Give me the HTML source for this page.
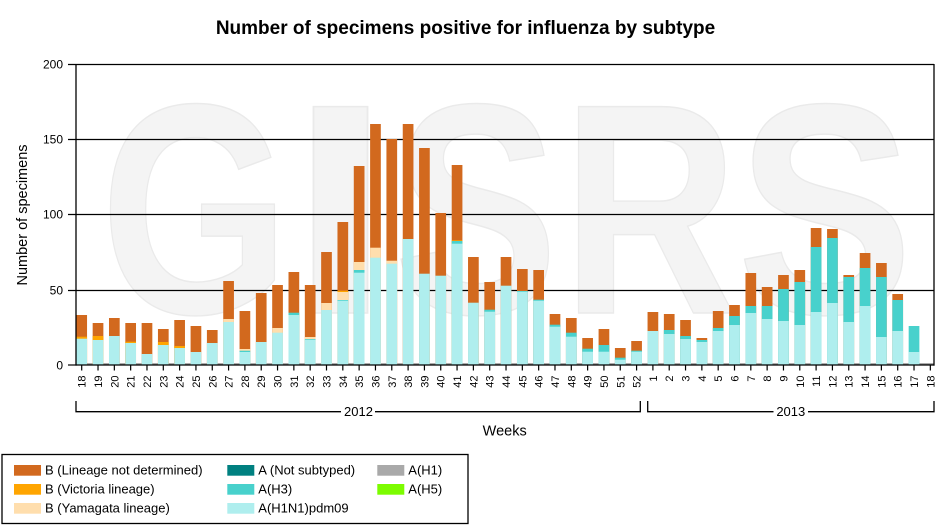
<!DOCTYPE html>
<html>
<head>
<meta charset="utf-8">
<style>
html,body{margin:0;padding:0;background:#fff;}
svg{display:block;font-family:"Liberation Sans",Arial,sans-serif;}
</style>
</head>
<body>
<svg width="935" height="529" viewBox="0 0 935 529" xmlns="http://www.w3.org/2000/svg">
<rect x="0" y="0" width="935" height="529" fill="#fff"/>

<!-- Watermark -->
<g font-family="Liberation Sans, Arial, sans-serif" font-weight="bold" font-size="300" fill="#f4f4f4" stroke="#eaeaea" stroke-width="1.5" text-anchor="middle">
<text transform="translate(195,313) scale(0.81,1)">G</text>
<text transform="translate(340.5,313) scale(1.25,1)">I</text>
<text transform="translate(476,313) scale(0.82,1)">S</text>
<text transform="translate(650,313) scale(0.81,1)">R</text>
<text transform="translate(825,313) scale(0.88,1)">S</text>
</g>

<!-- Title -->
<text x="465.5" y="34" font-size="19" font-weight="bold" text-anchor="middle" fill="#000">Number of specimens positive for influenza by subtype</text>

<!-- Gridlines -->
<g stroke="#000" stroke-width="1.2">
<line x1="68" y1="64.5" x2="934" y2="64.5"/>
<line x1="68" y1="139.5" x2="934" y2="139.5"/>
<line x1="68" y1="214.5" x2="934" y2="214.5"/>
<line x1="68" y1="290.5" x2="934" y2="290.5"/>
<line x1="68" y1="365" x2="76" y2="365"/>
</g>

<!-- gray base line -->
<rect x="76" y="363.3" width="858" height="1.7" fill="#888"/>

<!-- Bars: B (Lineage not determined) -->
<g fill="#D2691E">
<rect x="76.35" y="315" width="10.7" height="50"/>
<rect x="92.67" y="323" width="10.7" height="42"/>
<rect x="108.99" y="318" width="10.7" height="47"/>
<rect x="125.31" y="323" width="10.7" height="42"/>
<rect x="141.63" y="323" width="10.7" height="42"/>
<rect x="157.95" y="329" width="10.7" height="36"/>
<rect x="174.27" y="320" width="10.7" height="45"/>
<rect x="190.59" y="326" width="10.7" height="39"/>
<rect x="206.91" y="330" width="10.7" height="35"/>
<rect x="223.23" y="281" width="10.7" height="84"/>
<rect x="239.55" y="311" width="10.7" height="54"/>
<rect x="255.87" y="293" width="10.7" height="72"/>
<rect x="272.19" y="285" width="10.7" height="80"/>
<rect x="288.51" y="272" width="10.7" height="93"/>
<rect x="304.83" y="285" width="10.7" height="80"/>
<rect x="321.15" y="252" width="10.7" height="113"/>
<rect x="337.47" y="222" width="10.7" height="143"/>
<rect x="353.79" y="166" width="10.7" height="199"/>
<rect x="370.11" y="124" width="10.7" height="241"/>
<rect x="386.43" y="139" width="10.7" height="226"/>
<rect x="402.75" y="124" width="10.7" height="241"/>
<rect x="419.07" y="148" width="10.7" height="217"/>
<rect x="435.39" y="213" width="10.7" height="152"/>
<rect x="451.71" y="165" width="10.7" height="200"/>
<rect x="468.03" y="257" width="10.7" height="108"/>
<rect x="484.35" y="282" width="10.7" height="83"/>
<rect x="500.67" y="257" width="10.7" height="108"/>
<rect x="516.99" y="269" width="10.7" height="96"/>
<rect x="533.31" y="270" width="10.7" height="95"/>
<rect x="549.63" y="314" width="10.7" height="51"/>
<rect x="565.95" y="318" width="10.7" height="47"/>
<rect x="582.27" y="338" width="10.7" height="27"/>
<rect x="598.59" y="329" width="10.7" height="36"/>
<rect x="614.91" y="348" width="10.7" height="17"/>
<rect x="631.23" y="341" width="10.7" height="24"/>
<rect x="647.55" y="312" width="10.7" height="53"/>
<rect x="663.87" y="314" width="10.7" height="51"/>
<rect x="680.19" y="320" width="10.7" height="45"/>
<rect x="696.51" y="338" width="10.7" height="27"/>
<rect x="712.83" y="311" width="10.7" height="54"/>
<rect x="729.15" y="305" width="10.7" height="60"/>
<rect x="745.47" y="273" width="10.7" height="92"/>
<rect x="761.79" y="287" width="10.7" height="78"/>
<rect x="778.11" y="275" width="10.7" height="90"/>
<rect x="794.43" y="270" width="10.7" height="95"/>
<rect x="810.75" y="228" width="10.7" height="137"/>
<rect x="827.07" y="229" width="10.7" height="136"/>
<rect x="843.39" y="275" width="10.7" height="90"/>
<rect x="859.71" y="253" width="10.7" height="112"/>
<rect x="876.03" y="263" width="10.7" height="102"/>
<rect x="892.35" y="294" width="10.7" height="71"/>
</g>

<!-- B (Victoria lineage) -->
<g fill="#FFA500">
<rect x="76.35" y="336.7" width="10.7" height="28.3"/>
<rect x="92.67" y="336" width="10.7" height="29"/>
<rect x="125.31" y="341.7" width="10.7" height="23.3"/>
<rect x="157.95" y="342" width="10.7" height="23"/>
<rect x="174.27" y="346" width="10.7" height="19"/>
<rect x="337.47" y="290.7" width="10.7" height="74.3"/>
<rect x="451.71" y="240.3" width="10.7" height="124.7"/>
</g>

<!-- B (Yamagata lineage) -->
<g fill="#FFDEAD">
<rect x="223.23" y="319" width="10.7" height="46"/>
<rect x="239.55" y="349" width="10.7" height="16"/>
<rect x="272.19" y="328" width="10.7" height="37"/>
<rect x="304.83" y="337" width="10.7" height="28"/>
<rect x="321.15" y="303" width="10.7" height="62"/>
<rect x="337.47" y="292" width="10.7" height="73"/>
<rect x="353.79" y="262" width="10.7" height="103"/>
<rect x="370.11" y="247.7" width="10.7" height="117.3"/>
<rect x="386.43" y="260.7" width="10.7" height="104.3"/>
</g>

<!-- A(H3) -->
<g fill="#48D1CC">
<rect x="239.55" y="350.7" width="10.7" height="14.3"/>
<rect x="288.51" y="312.7" width="10.7" height="52.3"/>
<rect x="304.83" y="339" width="10.7" height="26"/>
<rect x="337.47" y="300" width="10.7" height="65"/>
<rect x="353.79" y="270" width="10.7" height="95"/>
<rect x="451.71" y="241" width="10.7" height="124"/>
<rect x="484.35" y="309.7" width="10.7" height="55.3"/>
<rect x="516.99" y="291" width="10.7" height="74"/>
<rect x="533.31" y="299.7" width="10.7" height="65.3"/>
<rect x="549.63" y="324.7" width="10.7" height="40.3"/>
<rect x="565.95" y="332.7" width="10.7" height="32.3"/>
<rect x="582.27" y="348.7" width="10.7" height="16.3"/>
<rect x="598.59" y="345" width="10.7" height="20"/>
<rect x="614.91" y="357.7" width="10.7" height="7.3"/>
<rect x="631.23" y="350.7" width="10.7" height="14.3"/>
<rect x="663.87" y="330" width="10.7" height="35"/>
<rect x="680.19" y="336" width="10.7" height="29"/>
<rect x="696.51" y="340" width="10.7" height="25"/>
<rect x="712.83" y="328" width="10.7" height="37"/>
<rect x="729.15" y="316" width="10.7" height="49"/>
<rect x="745.47" y="306" width="10.7" height="59"/>
<rect x="761.79" y="306" width="10.7" height="59"/>
<rect x="778.11" y="289" width="10.7" height="76"/>
<rect x="794.43" y="282" width="10.7" height="83"/>
<rect x="810.75" y="247" width="10.7" height="118"/>
<rect x="827.07" y="238" width="10.7" height="127"/>
<rect x="843.39" y="277" width="10.7" height="88"/>
<rect x="859.71" y="268" width="10.7" height="97"/>
<rect x="876.03" y="277" width="10.7" height="88"/>
<rect x="892.35" y="300" width="10.7" height="65"/>
<rect x="908.67" y="326" width="10.7" height="39"/>
</g>

<!-- A(H1N1)pdm09 -->
<g fill="#AFEEEE">
<rect x="76.35" y="338.7" width="10.7" height="26.3"/>
<rect x="92.67" y="340" width="10.7" height="25"/>
<rect x="108.99" y="336" width="10.7" height="29"/>
<rect x="125.31" y="343" width="10.7" height="22"/>
<rect x="141.63" y="354" width="10.7" height="11"/>
<rect x="157.95" y="345" width="10.7" height="20"/>
<rect x="174.27" y="348" width="10.7" height="17"/>
<rect x="190.59" y="352" width="10.7" height="13"/>
<rect x="206.91" y="343" width="10.7" height="22"/>
<rect x="223.23" y="322" width="10.7" height="43"/>
<rect x="239.55" y="352" width="10.7" height="13"/>
<rect x="255.87" y="342" width="10.7" height="23"/>
<rect x="272.19" y="332.7" width="10.7" height="32.3"/>
<rect x="288.51" y="315" width="10.7" height="50"/>
<rect x="304.83" y="339.7" width="10.7" height="25.3"/>
<rect x="321.15" y="310" width="10.7" height="55"/>
<rect x="337.47" y="300.7" width="10.7" height="64.3"/>
<rect x="353.79" y="272.7" width="10.7" height="92.3"/>
<rect x="370.11" y="257.7" width="10.7" height="107.3"/>
<rect x="386.43" y="263.7" width="10.7" height="101.3"/>
<rect x="402.75" y="239" width="10.7" height="126"/>
<rect x="419.07" y="273.7" width="10.7" height="91.3"/>
<rect x="435.39" y="275.7" width="10.7" height="89.3"/>
<rect x="451.71" y="243.7" width="10.7" height="121.3"/>
<rect x="468.03" y="302.7" width="10.7" height="62.3"/>
<rect x="484.35" y="311.7" width="10.7" height="53.3"/>
<rect x="500.67" y="285.7" width="10.7" height="79.3"/>
<rect x="516.99" y="291.7" width="10.7" height="73.3"/>
<rect x="533.31" y="300.7" width="10.7" height="64.3"/>
<rect x="549.63" y="326.7" width="10.7" height="38.3"/>
<rect x="565.95" y="336.7" width="10.7" height="28.3"/>
<rect x="582.27" y="351.7" width="10.7" height="13.3"/>
<rect x="598.59" y="351.7" width="10.7" height="13.3"/>
<rect x="614.91" y="359.7" width="10.7" height="5.3"/>
<rect x="631.23" y="351.7" width="10.7" height="13.3"/>
<rect x="647.55" y="331" width="10.7" height="34"/>
<rect x="663.87" y="334" width="10.7" height="31"/>
<rect x="680.19" y="339" width="10.7" height="26"/>
<rect x="696.51" y="342" width="10.7" height="23"/>
<rect x="712.83" y="331" width="10.7" height="34"/>
<rect x="729.15" y="325" width="10.7" height="40"/>
<rect x="745.47" y="313" width="10.7" height="52"/>
<rect x="761.79" y="319" width="10.7" height="46"/>
<rect x="778.11" y="321" width="10.7" height="44"/>
<rect x="794.43" y="325" width="10.7" height="40"/>
<rect x="810.75" y="312" width="10.7" height="53"/>
<rect x="827.07" y="303" width="10.7" height="62"/>
<rect x="843.39" y="322" width="10.7" height="43"/>
<rect x="859.71" y="306" width="10.7" height="59"/>
<rect x="876.03" y="337" width="10.7" height="28"/>
<rect x="892.35" y="331" width="10.7" height="34"/>
<rect x="908.67" y="352" width="10.7" height="13"/>
</g>

<!-- Axes -->
<g stroke="#000" stroke-width="1.3" fill="none">
<line x1="76" y1="64" x2="76" y2="365.6"/>
<line x1="76" y1="365" x2="934.5" y2="365"/>
<line x1="934" y1="64" x2="934" y2="365.6"/>
</g>

<!-- X ticks -->
<g stroke="#000" stroke-width="1.2">
<line x1="81.7" y1="365" x2="81.7" y2="370.5"/><line x1="98.02" y1="365" x2="98.02" y2="370.5"/><line x1="114.34" y1="365" x2="114.34" y2="370.5"/><line x1="130.66" y1="365" x2="130.66" y2="370.5"/><line x1="146.98" y1="365" x2="146.98" y2="370.5"/><line x1="163.3" y1="365" x2="163.3" y2="370.5"/><line x1="179.62" y1="365" x2="179.62" y2="370.5"/><line x1="195.94" y1="365" x2="195.94" y2="370.5"/><line x1="212.26" y1="365" x2="212.26" y2="370.5"/><line x1="228.58" y1="365" x2="228.58" y2="370.5"/><line x1="244.9" y1="365" x2="244.9" y2="370.5"/><line x1="261.22" y1="365" x2="261.22" y2="370.5"/><line x1="277.54" y1="365" x2="277.54" y2="370.5"/><line x1="293.86" y1="365" x2="293.86" y2="370.5"/><line x1="310.18" y1="365" x2="310.18" y2="370.5"/><line x1="326.5" y1="365" x2="326.5" y2="370.5"/><line x1="342.82" y1="365" x2="342.82" y2="370.5"/><line x1="359.14" y1="365" x2="359.14" y2="370.5"/><line x1="375.46" y1="365" x2="375.46" y2="370.5"/><line x1="391.78" y1="365" x2="391.78" y2="370.5"/><line x1="408.1" y1="365" x2="408.1" y2="370.5"/><line x1="424.42" y1="365" x2="424.42" y2="370.5"/><line x1="440.74" y1="365" x2="440.74" y2="370.5"/><line x1="457.06" y1="365" x2="457.06" y2="370.5"/><line x1="473.38" y1="365" x2="473.38" y2="370.5"/><line x1="489.7" y1="365" x2="489.7" y2="370.5"/><line x1="506.02" y1="365" x2="506.02" y2="370.5"/><line x1="522.34" y1="365" x2="522.34" y2="370.5"/><line x1="538.66" y1="365" x2="538.66" y2="370.5"/><line x1="554.98" y1="365" x2="554.98" y2="370.5"/><line x1="571.3" y1="365" x2="571.3" y2="370.5"/><line x1="587.62" y1="365" x2="587.62" y2="370.5"/><line x1="603.94" y1="365" x2="603.94" y2="370.5"/><line x1="620.26" y1="365" x2="620.26" y2="370.5"/><line x1="636.58" y1="365" x2="636.58" y2="370.5"/><line x1="652.9" y1="365" x2="652.9" y2="370.5"/><line x1="669.22" y1="365" x2="669.22" y2="370.5"/><line x1="685.54" y1="365" x2="685.54" y2="370.5"/><line x1="701.86" y1="365" x2="701.86" y2="370.5"/><line x1="718.18" y1="365" x2="718.18" y2="370.5"/><line x1="734.5" y1="365" x2="734.5" y2="370.5"/><line x1="750.82" y1="365" x2="750.82" y2="370.5"/><line x1="767.14" y1="365" x2="767.14" y2="370.5"/><line x1="783.46" y1="365" x2="783.46" y2="370.5"/><line x1="799.78" y1="365" x2="799.78" y2="370.5"/><line x1="816.1" y1="365" x2="816.1" y2="370.5"/><line x1="832.42" y1="365" x2="832.42" y2="370.5"/><line x1="848.74" y1="365" x2="848.74" y2="370.5"/><line x1="865.06" y1="365" x2="865.06" y2="370.5"/><line x1="881.38" y1="365" x2="881.38" y2="370.5"/><line x1="897.7" y1="365" x2="897.7" y2="370.5"/><line x1="914.02" y1="365" x2="914.02" y2="370.5"/><line x1="930.34" y1="365" x2="930.34" y2="370.5"/>
</g>

<!-- Y labels -->
<g font-size="12" text-anchor="end" fill="#000">
<text x="63" y="68.6">200</text>
<text x="63" y="143.6">150</text>
<text x="63" y="218.6">100</text>
<text x="63" y="294.6">50</text>
<text x="63" y="369.3">0</text>
</g>

<!-- X labels (rotated) -->
<g font-size="11" text-anchor="end" fill="#000">
<text transform="translate(85.7,375.5) rotate(-90)">18</text>
<text transform="translate(102.02,375.5) rotate(-90)">19</text>
<text transform="translate(118.34,375.5) rotate(-90)">20</text>
<text transform="translate(134.66,375.5) rotate(-90)">21</text>
<text transform="translate(150.98,375.5) rotate(-90)">22</text>
<text transform="translate(167.3,375.5) rotate(-90)">23</text>
<text transform="translate(183.62,375.5) rotate(-90)">24</text>
<text transform="translate(199.94,375.5) rotate(-90)">25</text>
<text transform="translate(216.26,375.5) rotate(-90)">26</text>
<text transform="translate(232.58,375.5) rotate(-90)">27</text>
<text transform="translate(248.9,375.5) rotate(-90)">28</text>
<text transform="translate(265.22,375.5) rotate(-90)">29</text>
<text transform="translate(281.54,375.5) rotate(-90)">30</text>
<text transform="translate(297.86,375.5) rotate(-90)">31</text>
<text transform="translate(314.18,375.5) rotate(-90)">32</text>
<text transform="translate(330.5,375.5) rotate(-90)">33</text>
<text transform="translate(346.82,375.5) rotate(-90)">34</text>
<text transform="translate(363.14,375.5) rotate(-90)">35</text>
<text transform="translate(379.46,375.5) rotate(-90)">36</text>
<text transform="translate(395.78,375.5) rotate(-90)">37</text>
<text transform="translate(412.1,375.5) rotate(-90)">38</text>
<text transform="translate(428.42,375.5) rotate(-90)">39</text>
<text transform="translate(444.74,375.5) rotate(-90)">40</text>
<text transform="translate(461.06,375.5) rotate(-90)">41</text>
<text transform="translate(477.38,375.5) rotate(-90)">42</text>
<text transform="translate(493.7,375.5) rotate(-90)">43</text>
<text transform="translate(510.02,375.5) rotate(-90)">44</text>
<text transform="translate(526.34,375.5) rotate(-90)">45</text>
<text transform="translate(542.66,375.5) rotate(-90)">46</text>
<text transform="translate(558.98,375.5) rotate(-90)">47</text>
<text transform="translate(575.3,375.5) rotate(-90)">48</text>
<text transform="translate(591.62,375.5) rotate(-90)">49</text>
<text transform="translate(607.94,375.5) rotate(-90)">50</text>
<text transform="translate(624.26,375.5) rotate(-90)">51</text>
<text transform="translate(640.58,375.5) rotate(-90)">52</text>
<text transform="translate(656.9,375.5) rotate(-90)">1</text>
<text transform="translate(673.22,375.5) rotate(-90)">2</text>
<text transform="translate(689.54,375.5) rotate(-90)">3</text>
<text transform="translate(705.86,375.5) rotate(-90)">4</text>
<text transform="translate(722.18,375.5) rotate(-90)">5</text>
<text transform="translate(738.5,375.5) rotate(-90)">6</text>
<text transform="translate(754.82,375.5) rotate(-90)">7</text>
<text transform="translate(771.14,375.5) rotate(-90)">8</text>
<text transform="translate(787.46,375.5) rotate(-90)">9</text>
<text transform="translate(803.78,375.5) rotate(-90)">10</text>
<text transform="translate(820.1,375.5) rotate(-90)">11</text>
<text transform="translate(836.42,375.5) rotate(-90)">12</text>
<text transform="translate(852.74,375.5) rotate(-90)">13</text>
<text transform="translate(869.06,375.5) rotate(-90)">14</text>
<text transform="translate(885.38,375.5) rotate(-90)">15</text>
<text transform="translate(901.7,375.5) rotate(-90)">16</text>
<text transform="translate(918.02,375.5) rotate(-90)">17</text>
<text transform="translate(934.34,375.5) rotate(-90)">18</text>
</g>

<!-- Year brackets -->
<g stroke="#000" stroke-width="1.3" fill="none">
<polyline points="76,401 76,411.7 341,411.7"/>
<polyline points="375,411.7 640.3,411.7 640.3,401"/>
<polyline points="647.7,401 647.7,411.7 773.5,411.7"/>
<polyline points="808,411.7 934,411.7 934,401"/>
</g>
<g font-size="13" text-anchor="middle" fill="#000">
<text x="358.5" y="416">2012</text>
<text x="790.8" y="416">2013</text>
</g>

<!-- Axis titles -->
<text x="504.7" y="435.7" font-size="14.5" text-anchor="middle" fill="#000">Weeks</text>
<text transform="translate(27,215) rotate(-90)" font-size="14.5" text-anchor="middle" fill="#000">Number of specimens</text>

<!-- Legend -->
<rect x="2" y="454.5" width="466" height="69" fill="#fff" stroke="#000" stroke-width="1.3"/>
<rect x="14" y="465" width="27" height="10.7" fill="#D2691E"/>
<rect x="14" y="484" width="27" height="10.7" fill="#FFA500"/>
<rect x="14" y="503" width="27" height="10.7" fill="#FFDEAD"/>
<rect x="227.3" y="465" width="27" height="10.7" fill="#008080"/>
<rect x="227.3" y="484" width="27" height="10.7" fill="#48D1CC"/>
<rect x="227.3" y="503" width="27" height="10.7" fill="#AFEEEE"/>
<rect x="377.3" y="465" width="27" height="10.7" fill="#A9A9A9"/>
<rect x="377.3" y="484" width="27" height="10.7" fill="#7CFC00"/>
<g font-size="13" fill="#000">
<text x="45" y="474.6">B (Lineage not determined)</text>
<text x="45" y="493.6">B (Victoria lineage)</text>
<text x="45" y="512.6">B (Yamagata lineage)</text>
<text x="258.3" y="474.6">A (Not subtyped)</text>
<text x="258.3" y="493.6">A(H3)</text>
<text x="258.3" y="512.6">A(H1N1)pdm09</text>
<text x="408.3" y="474.6">A(H1)</text>
<text x="408.3" y="493.6">A(H5)</text>
</g>
</svg>
</body>
</html>
